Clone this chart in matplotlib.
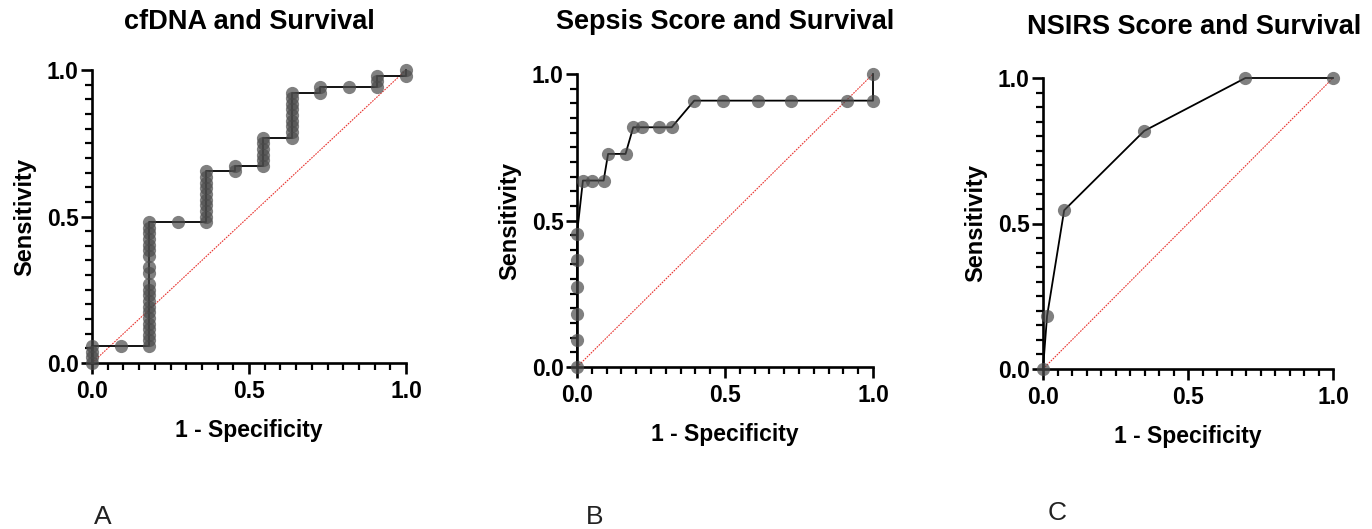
import numpy as np
import matplotlib.pyplot as plt
from matplotlib.ticker import MultipleLocator

plt.rcParams['font.family'] = ['Liberation Sans', 'DejaVu Sans']

# Panel A: cfDNA (11 negatives, 52 positives)
a_fpr_steps = [0, 0, 0, 0, 1, 2, 2, 2, 2, 2, 2, 2, 2, 2, 2, 2, 2, 2, 2, 2, 2, 2, 2, 2, 2, 2,
               3, 4, 4, 4, 4, 4, 4, 4, 4, 4, 4, 5, 5, 6, 6, 6, 6, 6, 6,
               7, 7, 7, 7, 7, 7, 7, 7, 7, 8, 8, 9, 10, 10, 10, 11, 11]
a_tpr_steps = [0, 1, 2, 3, 3, 3, 4, 5, 6, 7, 8, 9, 10, 11, 12, 13, 14, 16, 17, 19, 20, 21, 22, 23, 24, 25,
               25, 25, 26, 27, 28, 29, 30, 31, 32, 33, 34, 34, 35, 35, 36, 37, 38, 39, 40,
               40, 41, 42, 43, 44, 45, 46, 47, 48, 48, 49, 49, 49, 50, 51, 51, 52]
a_fpr = np.array(a_fpr_steps) / 11
a_tpr = np.array(a_tpr_steps) / 52

# Panel B: Sepsis score
b_fpr = [0, 0, 0, 0, 0, 0, 0.02, 0.049, 0.09, 0.105, 0.164, 0.19, 0.22, 0.278, 0.32,
         0.396, 0.494, 0.61, 0.722, 0.912, 1.0, 1.0]
b_tpr = [0, 1/11, 2/11, 3/11, 4/11, 5/11, 7/11, 7/11, 7/11, 8/11, 8/11, 9/11, 9/11, 9/11, 9/11,
         10/11, 10/11, 10/11, 10/11, 10/11, 10/11, 1.0]

# Panel C: NSIRS score
c_fpr = [0, 0.014, 0.073, 0.349, 0.698, 1.0]
c_tpr = [0, 2/11, 6/11, 9/11, 1.0, 1.0]

titles = ['cfDNA and Survival', 'Sepsis Score and Survival', 'NSIRS Score and Survival']
letters = ['A', 'B', 'C']
tick_vals = [0, 0.5, 1.0]
tick_labels = ['0.0', '0.5', '1.0']

W, H = 1372, 529
fig = plt.figure(figsize=(W / 100, H / 100), dpi=100)

# axes boxes in pixels: left, right, top, bottom
boxes = [(92, 406, 70, 363), (577, 873, 74, 367), (1043, 1333, 78, 369)]
title_pos = [(249, 22), (725, 22), (1194, 27)]
letter_pos = [(103, 517), (595, 517), (1057, 513)]
data = [(a_fpr, a_tpr), (b_fpr, b_tpr), (c_fpr, c_tpr)]

for i, (l, r, t, b) in enumerate(boxes):
    ax = fig.add_axes([l / W, (H - b) / H, (r - l) / W, (b - t) / H])
    x, y = data[i]
    ax.plot([0, 1], [0, 1], color='#e8332f', lw=0.8, ls=(0, (1.5, 1)), clip_on=False, zorder=2)
    ax.plot(x, y, color='black', lw=1.3, clip_on=False, zorder=3)
    ax.plot(x, y, ls='none', marker='o', ms=9.5, mfc='#4a4a4a', mec='none', alpha=0.7,
            clip_on=False, zorder=4)
    ax.set_xlim(0, 1)
    ax.set_ylim(0, 1)
    for s in ['top', 'right']:
        ax.spines[s].set_visible(False)
    for s in ['left', 'bottom']:
        ax.spines[s].set_linewidth(1.9)
    ax.set_xticks(tick_vals)
    ax.set_yticks(tick_vals)
    ax.xaxis.set_minor_locator(MultipleLocator(0.05))
    ax.yaxis.set_minor_locator(MultipleLocator(0.05))
    ax.tick_params(which='major', length=8, width=1.9, labelsize=16.5)
    ax.tick_params(axis='y', which='major', pad=1.5)
    ax.tick_params(axis='x', which='major', pad=4)
    ax.tick_params(which='minor', length=5, width=1.6)
    ax.set_xticklabels(tick_labels, fontweight='bold')
    ax.set_yticklabels(tick_labels, fontweight='bold')
    ax.set_xlabel('1 - Specificity', fontsize=16.5, fontweight='bold', labelpad=12)
    ax.set_ylabel('Sensitivity', fontsize=17, fontweight='bold', labelpad=8)
    fig.text(title_pos[i][0] / W, 1 - title_pos[i][1] / H, titles[i], fontsize=19.5,
             fontweight='bold', ha='center', va='center')
    fig.text(letter_pos[i][0] / W, 1 - letter_pos[i][1] / H, letters[i], fontsize=19,
             ha='center', va='center', color='#222222')

fig.savefig('out.png', dpi=100)
